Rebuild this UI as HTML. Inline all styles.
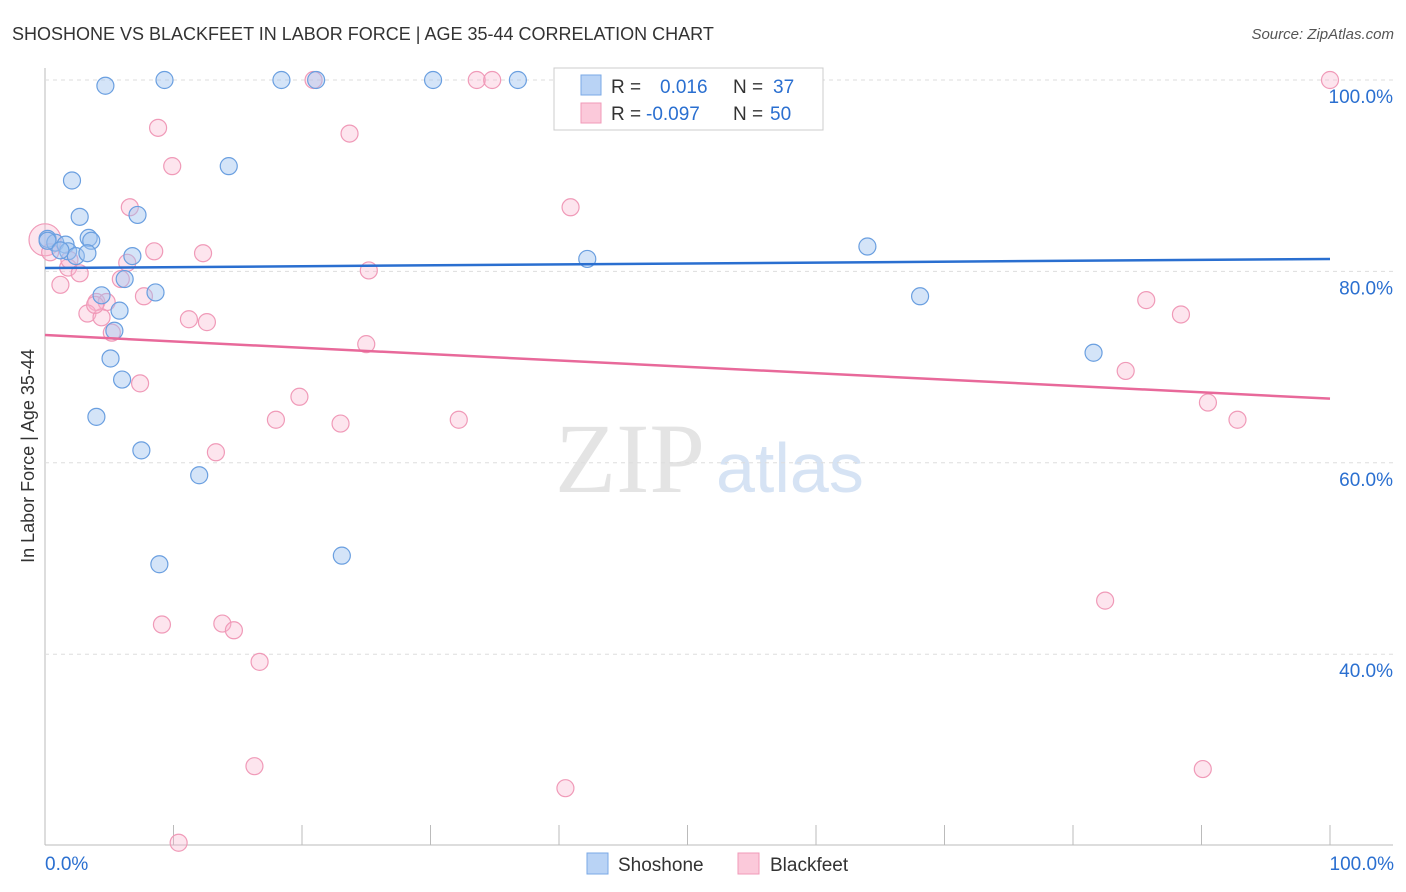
<!DOCTYPE html>
<html><head><meta charset="utf-8"><style>
body{margin:0;background:#fff;font-family:"Liberation Sans",sans-serif;}
svg{display:block}
</style></head><body>
<svg id="c" width="1406" height="892" xmlns="http://www.w3.org/2000/svg">
<text x="12" y="40" font-size="18" fill="#333">SHOSHONE VS BLACKFEET IN LABOR FORCE | AGE 35-44 CORRELATION CHART</text>
<text x="1394" y="39" font-size="15" fill="#555" font-style="italic" text-anchor="end">Source: ZipAtlas.com</text>
<text x="34" y="456" font-size="18" fill="#333" text-anchor="middle" transform="rotate(-90 34 456)">In Labor Force | Age 35-44</text>
<text x="555" y="492" font-size="100" fill="#e4e4e4" font-family="Liberation Serif,serif">ZIP</text>
<text x="716" y="492" font-size="70" fill="#d6e3f4">atlas</text>
<g id="grid"></g>
<g id="pts"></g>
<g id="lines"></g>
<g>
<rect x="554" y="68" width="269" height="62" fill="#fff" stroke="#ccc"/>
<rect x="581" y="75" width="20" height="20" fill="#b9d3f5" stroke="#7aa8e6"/>
<rect x="581" y="103" width="20" height="20" fill="#fbc9da" stroke="#f09ab8"/>
<text x="611" y="93" font-size="19" fill="#333">R = <tspan fill="#2a6fd0" x="660">0.016</tspan><tspan fill="#333" x="733">N =</tspan><tspan fill="#2a6fd0" x="773">37</tspan></text>
<text x="611" y="120" font-size="19" fill="#333">R = <tspan fill="#2a6fd0" x="646">-0.097</tspan><tspan fill="#333" x="733">N =</tspan><tspan fill="#2a6fd0" x="770">50</tspan></text>
</g>
<g>
<rect x="587" y="853" width="21" height="21" fill="#b9d3f5" stroke="#7aa8e6"/>
<text x="618" y="871" font-size="19" fill="#333">Shoshone</text>
<rect x="738" y="853" width="21" height="21" fill="#fbc9da" stroke="#f09ab8"/>
<text x="770" y="871" font-size="19" fill="#333">Blackfeet</text>
</g>
<text x="45" y="870" font-size="19" fill="#2a6fd0">0.0%</text>
<text x="1394" y="870" font-size="19" fill="#2a6fd0" text-anchor="end">100.0%</text>
</svg>
<script>
const yTicks=[100,80,60,40];
const yTickLabels=["100.0%","80.0%","60.0%","40.0%"];
const xTicks=[0,10,20,30,40,50,60,70,80,90,100];
const shoX=[4.7,9.3,18.4,21.1,30.2,36.8,2.1,14.3,2.7,7.2,0.2,0.8,1.6,3.4,3.6,1.8,2.4,3.3,6.8,42.2,64.0,6.2,4.4,8.6,5.8,68.1,5.4,5.1,6.0,81.6,4.0,7.5,12.0,8.9,23.1,0.2,1.2];
const shoY=[99.4,100,100,100,100,100,89.5,91,85.7,85.9,83.4,83,82.8,83.5,83.2,82.1,81.6,81.9,81.6,81.3,82.6,79.2,77.5,77.8,75.9,77.4,73.8,70.9,68.7,71.5,64.8,61.3,58.7,49.4,50.3,83.2,82.2];
const blkX=[100,20.9,33.6,34.8,8.8,23.7,9.9,6.6,40.9,0,8.5,12.3,6.4,1.8,2.7,25.2,1.2,5.9,7.7,4.0,4.8,3.3,4.4,11.2,12.6,5.2,25.0,7.4,85.7,88.4,84.1,19.8,17.97,23.0,32.2,90.5,92.8,13.3,9.1,13.8,14.7,16.7,82.5,16.3,40.5,90.1,10.4,3.9,1.9,0.4];
const blkY=[100,100,100,100,95,94.4,91,86.7,86.7,83.3,82.1,81.9,80.9,80.4,79.8,80.1,78.6,79.2,77.4,76.8,76.8,75.6,75.2,75,74.7,73.6,72.4,68.3,77,75.5,69.6,66.9,64.5,64.1,64.5,66.3,64.5,61.1,43.1,43.2,42.5,39.2,45.6,28.3,26,28,20.3,76.5,81.2,82.0];
const trendX=[0,100];
const shoTrend=[80.35,81.3];
const blkTrend=[73.35,66.7];
const NS='http://www.w3.org/2000/svg';
const X=v=>45+v*12.85, Y=v=>80+(100-v)*9.57;
function mk(t,a,p){const e=document.createElementNS(NS,t);for(const k in a)e.setAttribute(k,a[k]);p.appendChild(e);return e;}
const g=document.getElementById('grid');
let ax=mk('line',{x1:45,y1:68,x2:45,y2:845,stroke:'#bbb'},g);


let bx=mk('line',{x1:45,y1:845,x2:1393,y2:845,stroke:'#bbb'},g);


yTicks.forEach((t,i)=>{
 const l=mk('line',{x1:45,y1:Y(t),x2:1393,y2:Y(t),stroke:'#ddd','stroke-dasharray':'4 4'},g);
 
 
 const tx=mk('text',{x:1393,y:Y(t)+23,'font-size':19,fill:'#2a6fd0','text-anchor':'end'},g);
 tx.textContent=yTickLabels[i];
 
 
});
xTicks.forEach(t=>{
 const l=mk('line',{x1:X(t),y1:825,x2:X(t),y2:845,stroke:'#bbb'},g);
 
 
});
const p=document.getElementById('pts');
blkX.forEach((v,i)=>{
 const c=mk('circle',{cx:X(v),cy:Y(blkY[i]),r:i==9?16:8.5,fill:'rgba(248,180,205,0.35)',stroke:'#f09ab8','stroke-width':1.2},p);
 
 
});
shoX.forEach((v,i)=>{
 const c=mk('circle',{cx:X(v),cy:Y(shoY[i]),r:8.5,fill:'rgba(160,195,240,0.45)',stroke:'#6a9fe0','stroke-width':1.2},p);
 
 
});
const L=document.getElementById('lines');
const l1=mk('line',{x1:X(trendX[0]),y1:Y(shoTrend[0]),x2:X(trendX[1]),y2:Y(shoTrend[1]),stroke:'#2a6fd0','stroke-width':2.5},L);


const l2=mk('line',{x1:X(trendX[0]),y1:Y(blkTrend[0]),x2:X(trendX[1]),y2:Y(blkTrend[1]),stroke:'#e8699a','stroke-width':2.5},L);


</script>
</body></html>
